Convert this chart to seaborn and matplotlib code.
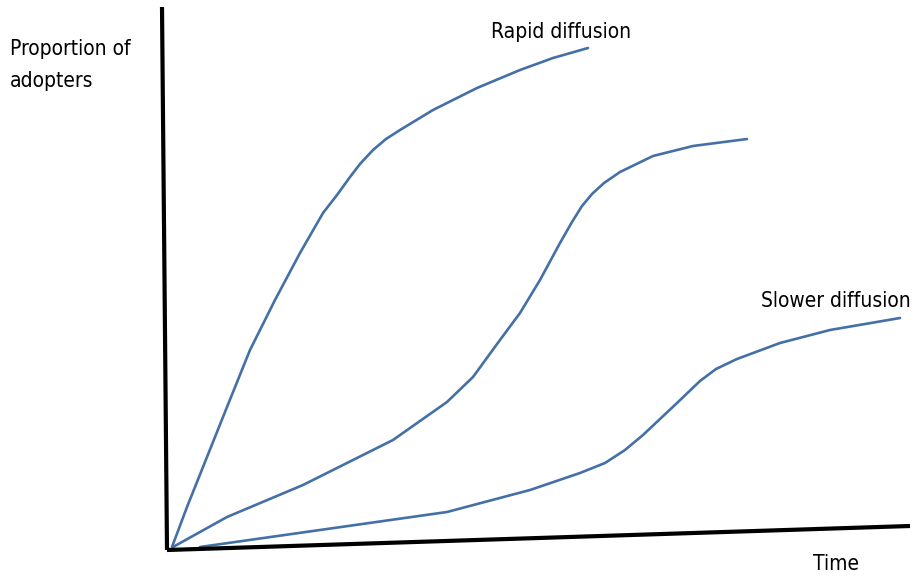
import matplotlib
matplotlib.use("Agg")

import pandas as pd
import matplotlib.pyplot as plt
import seaborn as sns

# curve points, in picture pixels (x right, y down)
RAPID_X = [172, 187, 203, 227, 250, 275, 300, 323, 337, 350, 360, 373, 386, 400, 433, 477, 520, 553, 588]
RAPID_Y = [547, 507, 467, 407, 350, 300, 253, 213, 195, 177, 164, 150, 139, 130, 110, 88, 70, 58, 48]

MIDDLE_X = [173, 227, 303, 347, 393, 447, 473, 500, 520, 540, 560, 572, 582, 592, 604, 620, 653, 693, 747]
MIDDLE_Y = [547, 517, 485, 463, 440, 402, 377, 340, 313, 280, 243, 222, 206, 194, 183, 172, 156, 146, 139]

SLOW_X = [200, 447, 530, 580, 605, 625, 643, 677, 700, 716, 737, 780, 830, 900]
SLOW_Y = [547, 512, 490, 473, 463, 450, 435, 403, 381, 369, 359, 343, 330, 318]

YAXIS_X = [162, 167]
YAXIS_Y = [7, 550]
XAXIS_X = [167, 910]
XAXIS_Y = [550, 526]

CURVE_COLOR = "#4470a6"


def main() -> None:
    sns.set_style("white")
    fig = plt.figure(figsize=(9.16, 5.76), dpi=100)
    ax = fig.add_axes([0, 0, 1, 1])

    curves = pd.concat([
        pd.DataFrame({"x": RAPID_X, "y": RAPID_Y, "curve": "rapid"}),
        pd.DataFrame({"x": MIDDLE_X, "y": MIDDLE_Y, "curve": "middle"}),
        pd.DataFrame({"x": SLOW_X, "y": SLOW_Y, "curve": "slow"}),
    ])
    for name, grp in curves.groupby("curve", sort=False):
        sns.lineplot(data=grp, x="x", y="y", sort=False, color=CURVE_COLOR,
                     linewidth=1.9, ax=ax, legend=False)
    for line in ax.get_lines():
        line.set_solid_joinstyle("round")

    ax.plot(YAXIS_X, YAXIS_Y, color="black", linewidth=3, solid_capstyle="butt")
    ax.plot(XAXIS_X, XAXIS_Y, color="black", linewidth=3, solid_capstyle="butt")

    txt = dict(color="black", va="baseline", ha="left", family="DejaVu Sans",
               fontstretch="condensed", fontsize=15)
    ax.text(10, 55, "Proportion of", **txt)
    ax.text(10, 87, "adopters", **txt)
    ax.text(491, 38, "Rapid diffusion", **txt)
    ax.text(761, 307, "Slower diffusion", **txt)
    ax.text(813, 570, "Time", **txt)

    ax.set_xlim(0, 916)
    ax.set_ylim(576, 0)
    ax.axis("off")
    fig.savefig("out.png", dpi=100)
    plt.close("all")


if __name__ == "__main__":
    main()
